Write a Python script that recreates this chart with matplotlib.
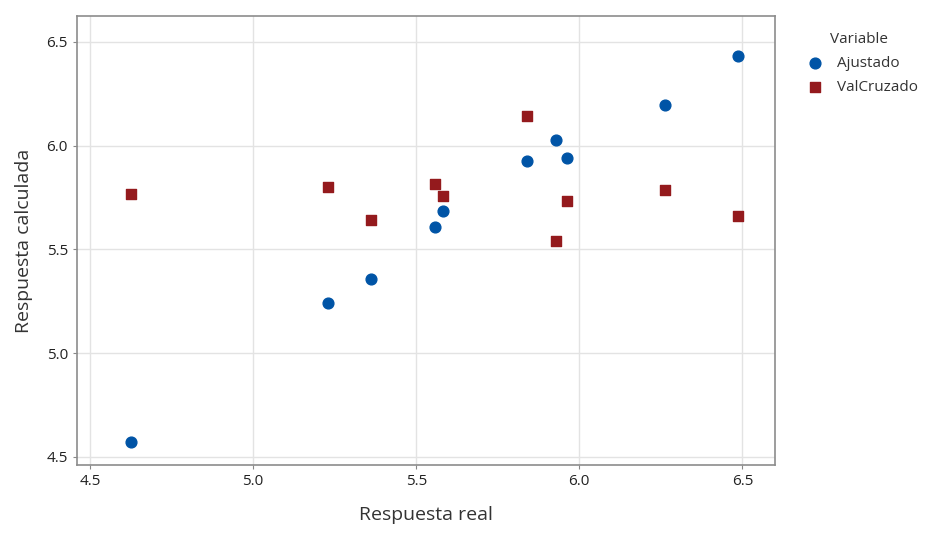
import numpy as np
import matplotlib.pyplot as plt

# data
resp_real = [4.626, 5.230, 5.362, 5.558, 5.583, 5.840, 5.929, 5.963, 6.264, 6.488]
ajustado = [4.572, 5.242, 5.358, 5.608, 5.686, 5.926, 6.028, 5.941, 6.196, 6.433]
val_cruzado = [5.767, 5.801, 5.642, 5.816, 5.758, 6.143, 5.541, 5.734, 5.787, 5.661]

xticks = [4.5, 5.0, 5.5, 6.0, 6.5]
yticks = [4.5, 5.0, 5.5, 6.0, 6.5]

plt.rcParams['font.family'] = ['Open Sans', 'DejaVu Sans']

fig = plt.figure(figsize=(9.27, 5.34), dpi=100)
ax = fig.add_axes([77/927, 1 - 465/534, 698/927, 449/534])

ax.scatter(resp_real, ajustado, marker='o', s=60, color='#0054A6', label='Ajustado', zorder=3)
ax.scatter(resp_real, val_cruzado, marker='s', s=60, color='#941A1D', label='ValCruzado', zorder=3)

ax.set_xlim(4.46, 6.60)
ax.set_ylim(4.46, 6.625)
ax.set_xticks(xticks)
ax.set_yticks(yticks)
ax.set_xticklabels(['%.1f' % t for t in xticks], fontsize=11, color='#222222')
ax.set_yticklabels(['%.1f' % t for t in yticks], fontsize=11, color='#222222')
ax.tick_params(length=3, color='#888888')
ax.grid(True, color='#e3e3e3', linewidth=1)
ax.set_axisbelow(True)
for s in ax.spines.values():
    s.set_color('#8c8c8c')
    s.set_linewidth(1.2)

ax.set_xlabel('Respuesta real', fontsize=14, color='#333333', labelpad=12)
ax.set_ylabel('Respuesta calculada', fontsize=14, color='#333333', labelpad=10)

leg = fig.legend(loc='upper left', bbox_to_anchor=(794/927, 1 - 26/534), frameon=False,
                 title='Variable', fontsize=11, title_fontsize=11,
                 handletextpad=0.4, borderaxespad=0, labelspacing=0.6, markerscale=1.0)
leg.get_title().set_color('#333333')
for t in leg.get_texts():
    t.set_color('#333333')

fig.savefig('out.png', dpi=100)
